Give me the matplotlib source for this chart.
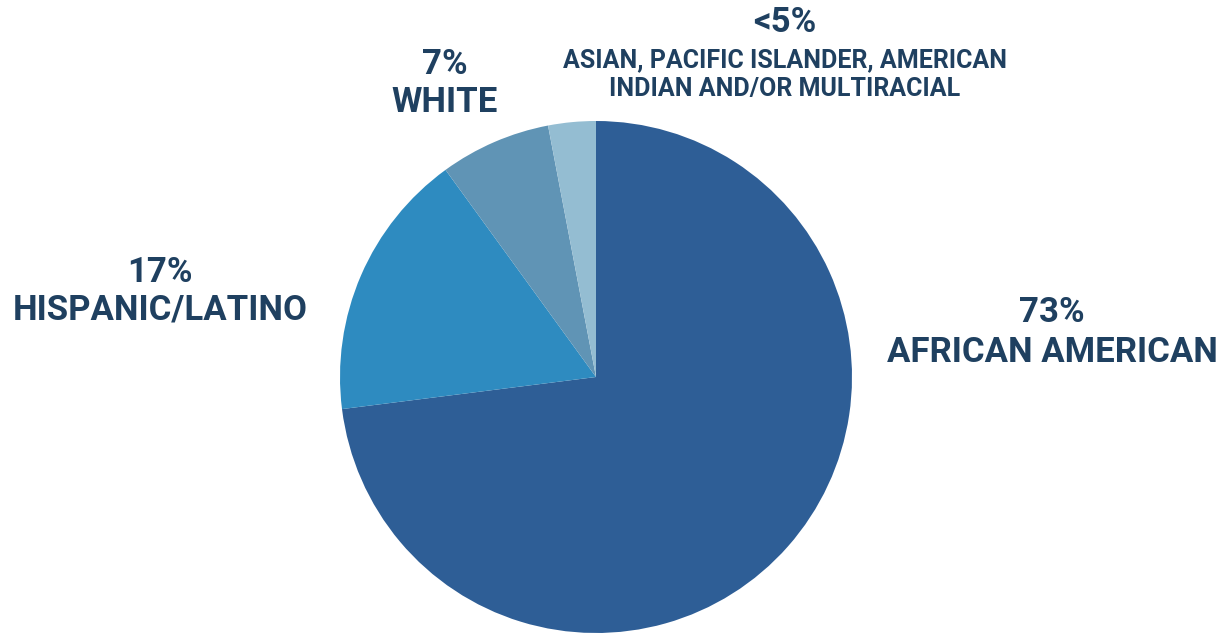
import matplotlib
matplotlib.use("Agg")
import matplotlib.pyplot as plt

groups = ['African American', 'Hispanic/Latino', 'White',
          'Asian, Pacific Islander, American Indian and/or Multiracial']
shares = [73, 17, 7, 3]
pct_labels = ['73%', '17%', '7%', '<5%']
colors = ['#2e5e96', '#2e8bc0', '#6094b5', '#94bdd2']
txt = '#1f4060'

W, H = 1232, 633
fig = plt.figure(figsize=(W / 100, H / 100), dpi=100)
fig.patch.set_facecolor('white')

# pie: centre (596, 377) px, radius 256 px
cx, cy, r = 596, 377, 256
ax = fig.add_axes([(cx - r) / W, (H - cy - r) / H, 2 * r / W, 2 * r / H])
ax.pie(shares, colors=colors, startangle=90, counterclock=False,
       wedgeprops=dict(linewidth=0))
ax.set_xlim(-1, 1)
ax.set_ylim(-1, 1)
ax.set_aspect('equal')
ax.axis('off')

font = 'Roboto'

def put(x, y, s, size):
    fig.text(x / W, 1 - y / H, s, ha='center', va='center',
             fontsize=size, fontweight='bold', color=txt, family=font)

put(1052, 313, pct_labels[0], 25)
put(1052, 353, groups[0].upper(), 25)
put(160, 272, pct_labels[1], 25)
put(160, 310, groups[1].upper(), 25)
put(445, 65, pct_labels[2], 25)
put(445, 103, groups[2].upper(), 25)
put(785, 22, pct_labels[3], 25)
put(785, 60, 'ASIAN, PACIFIC ISLANDER, AMERICAN', 18)
put(785, 89, 'INDIAN AND/OR MULTIRACIAL', 18)

fig.savefig('out.png', dpi=100)
